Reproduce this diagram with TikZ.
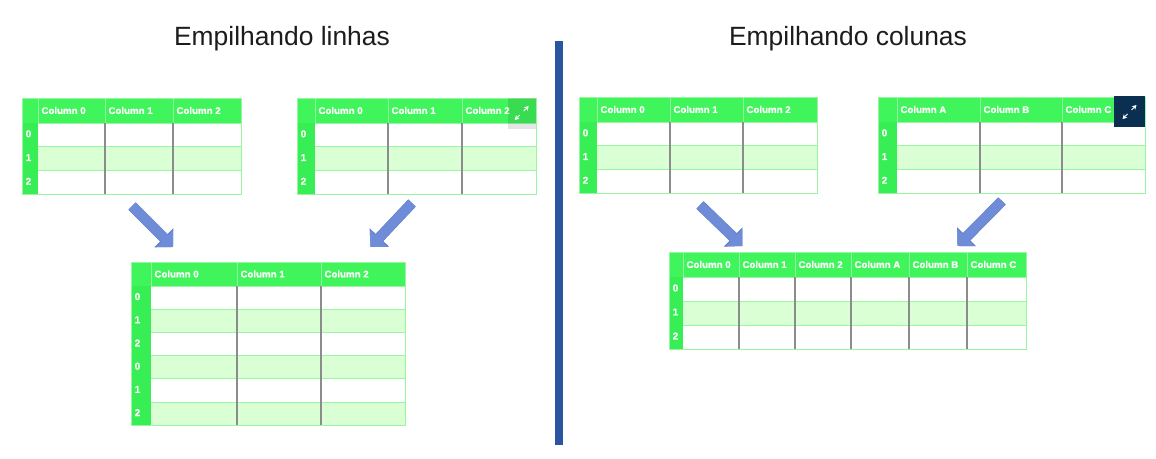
\documentclass[tikz,border=0pt]{standalone}
\usepackage{fontspec}
\setmainfont{Liberation Sans}[BoldFeatures={FakeBold=0.5}]
\usetikzlibrary{arrows.meta,calc}
\definecolor{hdr}{HTML}{40F55B}
\definecolor{idx}{HTML}{37EE55}
\definecolor{band}{HTML}{DAFFD5}
\definecolor{gridl}{HTML}{98F6A2}
\definecolor{hline}{HTML}{8FF8A0}
\definecolor{vline}{HTML}{8C8C8C}
\definecolor{blockblue}{HTML}{6F8CD9}
\definecolor{blockedge}{HTML}{5F7AC0}
\definecolor{divider}{HTML}{2A55A0}
\definecolor{navy}{HTML}{0A2F50}
\definecolor{titlecol}{HTML}{1C1C1C}
\tikzset{
  x=1pt,y=-1pt,
  title/.style={font=\fontsize{26.4}{30}\selectfont,text=titlecol,inner sep=0pt},
  tframe/.style={draw=gridl,line width=1pt,inner sep=0pt,outer sep=0pt,anchor=north west},
  headtxt/.style={font=\fontsize{9.7}{11}\selectfont\bfseries,text=white,inner sep=0pt,anchor=west},
  rowtxt/.style={font=\fontsize{10}{11}\selectfont\bfseries,text=white,inner sep=0pt,anchor=west},
  blockarrow/.style={draw=blockblue,line width=9.5pt,-{Triangle[width=24pt,length=12pt]},
    preaction={draw=blockedge,line width=10.5pt,-{Triangle[width=26pt,length=13pt]}}},
  iconarrow/.style={draw=white,line width=.8pt,-{Stealth[length=4.5pt,width=5pt]}}
}
% #1 name, #2 x0, #3 x1, #4 y0, #5 header bottom, #6 row height,
% #7 column list xleft/xright/label, #8 row labels, #9 number of rows
\newcommand{\gridtable}[9]{
  \pgfmathsetmacro{\ybot}{#5+#6*#9}
  \pgfmathsetmacro{\xidx}{\getidx}
  \fill[white] (#2,#4) rectangle (#3,\ybot);
  \foreach \lab [count=\rr from 0] in {#8}{
    \pgfmathsetmacro{\ya}{#5+#6*\rr}
    \pgfmathsetmacro{\yb}{#5+#6*(\rr+1)}
    \pgfmathsetmacro{\ym}{#5+#6*(\rr+.5)-1}
    \ifodd\rr\relax \fill[band] (#2,\ya) rectangle (#3,\yb); \fi
    \fill[idx] (#2,\ya) rectangle (\xidx,\yb);
    \draw[gridl,line width=1pt] (\xidx,\yb) -- (#3,\yb);
    \draw[gridl,line width=.8pt] (\xidx,\ya) -- (#3,\ya);
    \node[rowtxt] (#1-r\rr) at (#2+3.5,\ym) {\lab};
  }
  \fill[hdr] (#2,#4) rectangle (#3,#5);
  \pgfmathsetmacro{\ymh}{(#4+#5)/2}
  \foreach \xl/\xr/\lab [count=\cc from 0] in {#7}{
    \draw[hline,line width=1pt] (\xl,#4) -- (\xl,#5);
    \ifdim \xr pt<#3pt
      \draw[vline,line width=1.1pt] (\xr,#5) -- (\xr,\ybot);
    \fi
    \node[headtxt] (#1-c\cc) at (\xl+3.3,\ymh) {\lab};
  }
  \pgfmathsetmacro{\tw}{#3-#2}
  \pgfmathsetmacro{\th}{\ybot-#4}
  \node[tframe,minimum width=\tw pt,minimum height=\th pt] (#1) at (#2,#4) {};
}
\begin{document}
\begin{tikzpicture}
\useasboundingbox (0,0) rectangle (1156,458);
\fill[white] (0,0) rectangle (1156,458);

\node[title] (title1) at (282,39) {Empilhando linhas};
\node[title] (title2) at (848,39) {Empilhando colunas};
\fill[divider] (555,41) rectangle (562.5,445);

\def\getidx{38}
\gridtable{t1}{22}{241}{98}{123}{23.7}{38/105/Column 0,105/173/Column 1,173/241/Column 2}{0,1,2}{3}
\def\getidx{315}
\gridtable{t2}{297}{536}{98}{123}{23.7}{315/388/Column 0,388/462/Column 1,462/536/Column 2}{0,1,2}{3}
\def\getidx{151}
\gridtable{t3}{131}{405}{262}{286}{23.2}{151/237/Column 0,237/321/Column 1,321/405/Column 2}{0,1,2,0,1,2}{6}
\def\getidx{597}
\gridtable{t4}{579}{817}{97}{122}{23.7}{597/670/Column 0,670/743/Column 1,743/817/Column 2}{0,1,2}{3}
\def\getidx{897}
\gridtable{t5}{878}{1145}{97}{122}{23.7}{897/980/Column A,980/1062/Column B,1062/1145/Column C}{0,1,2}{3}
\def\getidx{683}
\gridtable{t6}{669}{1026}{252}{277}{24}{683/739/Column 0,739/795/Column 1,795/851/Column 2,851/909/Column A,909/967/Column B,967/1026/Column C}{0,1,2}{3}

% expand icons
\fill[black,opacity=.1] (507.5,98) rectangle (536,129);
\coordinate (i1c) at (521.7,113);
\draw[iconarrow] ($(i1c)+(2,-2)$) -- ($(i1c)+(7,-7)$);
\draw[iconarrow] ($(i1c)+(-2,2)$) -- ($(i1c)+(-7,7)$);
\fill[navy] (1114,96) rectangle (1145,127);
\coordinate (i2c) at (1129.5,112);
\draw[iconarrow] ($(i2c)+(2,-2)$) -- ($(i2c)+(7,-7)$);
\draw[iconarrow] ($(i2c)+(-2,2)$) -- ($(i2c)+(-7,7)$);

% block arrows
\coordinate (a1s) at (132,206);
\coordinate (a1e) at (173,247);
\coordinate (a2s) at (412,203);
\coordinate (a2e) at (370.5,247);
\coordinate (a3s) at (700,205);
\coordinate (a3e) at (742.5,246);
\coordinate (a4s) at (1002,201);
\coordinate (a4e) at (957.5,246);
\draw[blockarrow] (a1s) -- (a1e);
\draw[blockarrow] (a2s) -- (a2e);
\draw[blockarrow] (a3s) -- (a3e);
\draw[blockarrow] (a4s) -- (a4e);
\end{tikzpicture}
\end{document}
